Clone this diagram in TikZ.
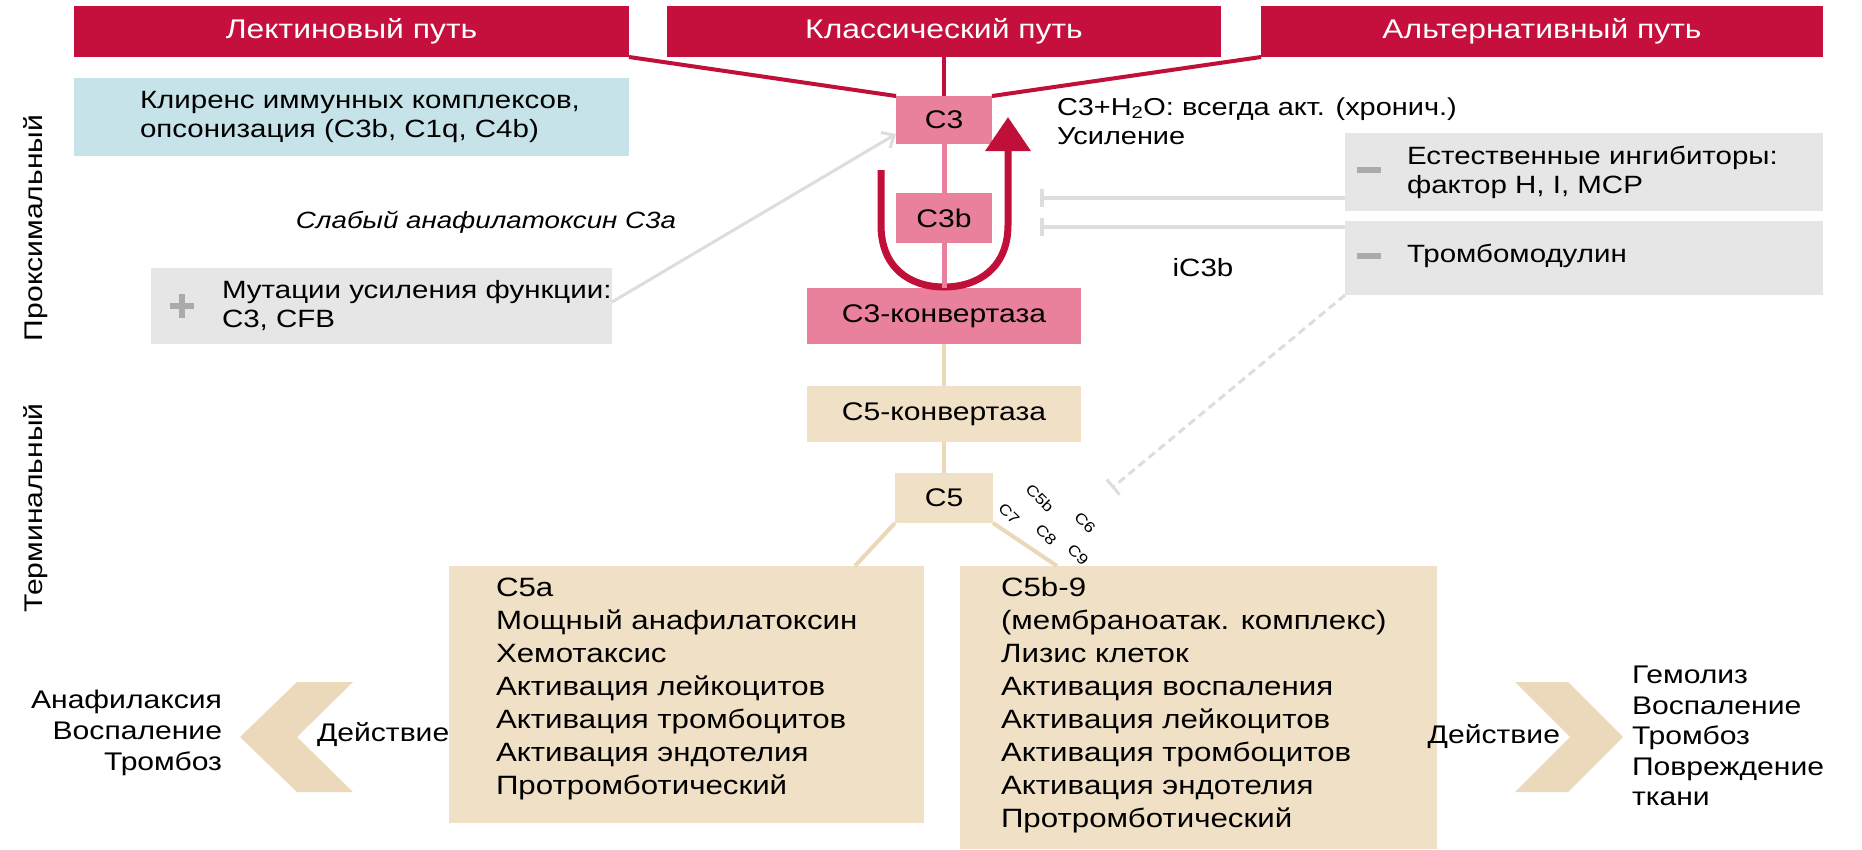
\documentclass[tikz,border=0pt]{standalone}
\usepackage{fontspec}
\setmainfont{Liberation Sans}[FakeStretch=1.18]
\usetikzlibrary{arrows.meta,calc}
\definecolor{hdrred}{HTML}{C50F3C}
\definecolor{darkred}{HTML}{C0103A}
\definecolor{pinkbox}{HTML}{E9819D}
\definecolor{tanfill}{HTML}{F0E1C6}
\definecolor{tanline}{HTML}{EAD8B8}
\definecolor{lblue}{HTML}{C6E3EA}
\definecolor{lgray}{HTML}{E6E6E6}
\definecolor{mgray}{HTML}{ABABAB}
\definecolor{lline}{HTML}{DDDDDD}
\begin{document}
\begin{tikzpicture}[x=1pt,y=-1pt,
  every node/.style={inner sep=0pt,outer sep=0pt},
  hdr/.style={fill=hdrred,text=white,minimum height=51pt,font=\fontsize{27}{31}\selectfont},
  pbox/.style={fill=pinkbox,font=\fontsize{25.5}{29}\selectfont},
  tbox/.style={fill=tanfill,font=\fontsize{25.5}{29}\selectfont},
  gbox/.style={fill=lgray},
  txt/.style={font=\fontsize{25}{29}\selectfont,align=left},
  ltxt/.style={font=\fontsize{26.5}{33}\selectfont,align=left},
  small/.style={font=\fontsize{15}{17}\selectfont},
  redline/.style={draw=darkred,line width=4pt},
  pinkline/.style={draw=pinkbox,line width=5pt},
  tanln/.style={draw=tanline,line width=4pt},
  inh/.style={draw=lline,line width=4pt,-{Bar[width=18pt,line width=4pt]}},
  inhd/.style={draw=lline,line width=3pt,dashed,dash pattern=on 8pt off 5pt,-{Bar[width=20pt,line width=3pt]}},
  sign/.style={draw=mgray,line width=6pt},
  chev/.style={fill=tanfill!90!brown!95}
]
\useasboundingbox (0,0) rectangle (1862,849);
\fill[white] (0,0) rectangle (1862,849);

% headers
\node[hdr,minimum width=555pt] (lect) at (351.5,31.5) {Лектиновый путь};
\node[hdr,minimum width=554pt] (class) at (944,31.5) {Классический путь};
\node[hdr,minimum width=562pt] (alt) at (1542,31.5) {Альтернативный путь};

% side labels
\node[rotate=90,font=\fontsize{25.5}{29}\selectfont] (prox) at (36,228) {Проксимальный};
\node[rotate=90,font=\fontsize{25.5}{29}\selectfont] (term) at (36,508) {Терминальный};

% blue box
\node[fill=lblue,minimum width=555pt,minimum height=78pt] (blue) at (351.5,117) {};
\node[txt,anchor=west] (bluetxt) at (140,117) {Клиренс иммунных комплексов,\\опсонизация (C3b, C1q, C4b)};

% central cascade
\node[pbox,minimum width=96pt,minimum height=48pt] (c3) at (944,120) {C3};
\node[pbox,minimum width=96pt,minimum height=50pt] (c3b) at (944,218) {C3b};
\node[pbox,minimum width=274pt,minimum height=56pt] (c3k) at (944,316) {C3-конвертаза};
\node[tbox,minimum width=274pt,minimum height=56pt] (c5k) at (944,414) {C5-конвертаза};
\node[tbox,minimum width=98pt,minimum height=50pt] (c5) at (944,498) {C5};

% header lines
\draw[redline] (lect.south east) -- (c3.north west);
\draw[redline] (class.south) -- (c3.north);
\draw[redline] (alt.south west) -- (c3.north east);

% loop arrow
\coordinate (lA) at (881,170);
\coordinate (lB) at (944,287);
\coordinate (lC) at (1008,117);
\draw[darkred,line width=7pt] (lA) -- (881,225) .. controls (881,268) and (910,287) .. (lB);
\draw[darkred,line width=7pt,-{Triangle[length=34pt,width=44pt]}] (lB) .. controls (978,287) and (1008,268) .. (1008,225) -- (lC);

\draw[pinkline] (c3.south) -- (c3b.north);
\draw[pinkline] (c3b.south) -- (c3k.north);

\draw[tanln] (c3k.south) -- (c5k.north);
\draw[tanln] (c5k.south) -- (c5.north);

% C5a / C5b-9 boxes
\node[fill=tanfill,minimum width=475pt,minimum height=257pt] (c5a) at (686.5,694.5) {};
\node[fill=tanfill,minimum width=477pt,minimum height=283pt] (c5b9) at (1198.5,707.5) {};
\node[ltxt,anchor=west] (c5atxt) at (496,689) {C5a\\Мощный анафилатоксин\\Хемотаксис\\Активация лейкоцитов\\Активация тромбоцитов\\Активация эндотелия\\Протромботический};
\node[ltxt,anchor=west] (c5b9txt) at (1001,705.5) {C5b-9\\(мембраноатак. комплекс)\\Лизис клеток\\Активация воспаления\\Активация лейкоцитов\\Активация тромбоцитов\\Активация эндотелия\\Протромботический};
\coordinate (c5aT) at (855,566);
\coordinate (c5bT) at (1057,566);
\draw[tanln] (c5.south west) -- (c5aT);
\draw[tanln] (c5.south east) -- (c5bT);

% small rotated labels
\node[small,rotate=-45] (l5b) at (1040,498) {C5b};
\node[small,rotate=-45] (l7) at (1009,514) {C7};
\node[small,rotate=-45] (l8) at (1046,535) {C8};
\node[small,rotate=-45] (l6) at (1085,523) {C6};
\node[small,rotate=-45] (l9) at (1078,555) {C9};

% right gray boxes
\node[gbox,minimum width=478pt,minimum height=78pt] (inhib) at (1584,172) {};
\node[gbox,minimum width=478pt,minimum height=74pt] (thromb) at (1584,258) {};
\draw[sign] (1357,170) -- (1381,170);
\draw[sign] (1357,256) -- (1381,256);
\node[txt,anchor=west] (inhibtxt) at (1407,172) {Естественные ингибиторы:\\фактор H, I, MCP};
\node[txt,anchor=west] (thrombtxt) at (1407,256) {Тромбомодулин};

\coordinate (t1) at (1040,198);
\coordinate (t2) at (1040,227);
\draw[inh] (inhib.west |- t1) -- (t1);
\draw[inh] (thromb.west |- t2) -- (t2);
\coordinate (t3) at (1112,488);
\draw[inhd] (thromb.south west) -- (t3);

\node[txt,anchor=west,font=\fontsize{24.5}{29}\selectfont] (h2o) at (1057,121) {C3+H\textsubscript{2}O: всегда акт. (хронич.)\\Усиление};
\node[txt] (ic3b) at (1203,268) {iC3b};

% left gray box
\node[gbox,minimum width=461pt,minimum height=76pt] (mut) at (381.5,306) {};
\draw[sign] (170,306) -- (194,306);
\draw[sign] (182,294) -- (182,318);
\node[txt,anchor=west] (muttxt) at (222,306) {Мутации усиления функции:\\C3, CFB};
\node[font=\fontsize{23.5}{28}\selectfont\itshape] (c3a) at (486,222) {Слабый анафилатоксин C3a};
\draw[draw=lline,line width=3pt,-{Straight Barb[length=10pt,width=18pt]}] (mut.east |- 0,302) -- (c3.west |- 0,134);

% chevrons and outcomes
\fill[chev] (297,682) -- (353,682) -- (297,737) -- (353,792) -- (297,792) -- (240,737) -- cycle;
\fill[chev] (1515,682) -- (1568,682) -- (1623,737) -- (1568,792) -- (1515,792) -- (1570,737) -- cycle;
\node[font=\fontsize{25.5}{31}\selectfont,align=right,anchor=east] (outL) at (222,733) {Анафилаксия\\Воспаление\\Тромбоз};
\node[font=\fontsize{25.5}{29}\selectfont,anchor=west] (actL) at (317,735) {Действие};
\node[font=\fontsize{25.5}{29}\selectfont,anchor=east] (actR) at (1560,737) {Действие};
\node[font=\fontsize{25.5}{30.5}\selectfont,align=left,anchor=west] (outR) at (1632,736) {Гемолиз\\Воспаление\\Тромбоз\\Повреждение\\ткани};
\end{tikzpicture}
\end{document}
